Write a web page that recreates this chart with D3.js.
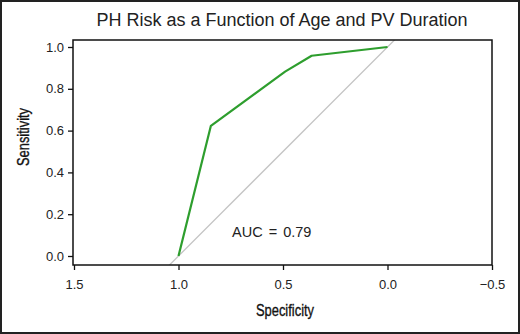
<!DOCTYPE html>
<html>
<head>
<meta charset="utf-8">
<script src="https://cdn.jsdelivr.net/npm/d3@7"></script>
<style>
  body { margin: 0; background: #fff; }
  svg { display: block; }
</style>
</head>
<body>
<div id="chart"></div>
<script>
// ROC curve points
var specificity = [1.0, 0.845, 0.49, 0.363, 0.0];
var sensitivity = [0.0, 0.623, 0.882, 0.958, 1.0];
var xTicks = [1.5, 1.0, 0.5, 0.0, -0.5];
var yTicks = [0.0, 0.2, 0.4, 0.6, 0.8, 1.0];
var aucLabel = "AUC = 0.79";

var width = 520, height = 334;
var box = {left: 73, right: 492, top: 40, bottom: 265};

var svg = d3.select("#chart")
    .append("svg")
    .attr("width", width)
    .attr("height", height);

// outer frame
svg.append("rect")
    .attr("x", 1)
    .attr("y", 1)
    .attr("width", width - 2)
    .attr("height", height - 2)
    .attr("fill", "#fff")
    .attr("stroke", "#222")
    .attr("stroke-width", 2);

var x = d3.scaleLinear()
    .domain([1.5, -0.5])
    .range([74, 492]);

var y = d3.scaleLinear()
    .domain([0, 1])
    .range([256, 47]);

svg.append("clipPath")
    .attr("id", "plotclip")
    .append("rect")
    .attr("x", box.left)
    .attr("y", box.top)
    .attr("width", box.right - box.left)
    .attr("height", box.bottom - box.top);

// diagonal reference line
svg.append("line")
    .attr("clip-path", "url(#plotclip)")
    .attr("x1", x(1.2))
    .attr("y1", y(-0.2))
    .attr("x2", x(-0.2))
    .attr("y2", y(1.2))
    .attr("stroke", "#c4c4c4")
    .attr("stroke-width", 1.3);

// ROC curve
var rocData = specificity.map(function(s, i) { return {spec: s, sens: sensitivity[i]}; });
var line = d3.line()
    .x(function(d) { return x(d.spec); })
    .y(function(d) { return y(d.sens); });

svg.append("path")
    .datum(rocData)
    .attr("d", line)
    .attr("fill", "none")
    .attr("stroke", "#2e9e2e")
    .attr("stroke-width", 2.2)
    .attr("stroke-linejoin", "round");

// box
svg.append("rect")
    .attr("x", box.left)
    .attr("y", box.top)
    .attr("width", box.right - box.left)
    .attr("height", box.bottom - box.top)
    .attr("fill", "none")
    .attr("stroke", "#111")
    .attr("stroke-width", 1.5);

// axes
var xAxis = svg.append("g")
    .attr("transform", "translate(0," + box.bottom + ")")
    .call(d3.axisBottom(x).tickValues(xTicks).tickSize(5).tickSizeOuter(0)
        .tickFormat(function(d) { return d < 0 ? "\u2212" + Math.abs(d).toFixed(1) : d.toFixed(1); }));

var yAxis = svg.append("g")
    .attr("transform", "translate(" + box.left + ",0)")
    .call(d3.axisLeft(y).tickValues(yTicks).tickSize(5).tickSizeOuter(0).tickFormat(d3.format(".1f")));

[xAxis, yAxis].forEach(function(a) {
    a.select(".domain").remove();
    a.selectAll(".tick line").attr("stroke", "#111").attr("stroke-width", 1.3);
    a.selectAll(".tick text")
        .attr("fill", "#222")
        .style("font-family", "'Liberation Sans', Arial, sans-serif")
        .style("font-size", "13px");
});
xAxis.selectAll(".tick text").attr("dy", "1.2em");
yAxis.selectAll(".tick text").attr("x", -9);

// title
svg.append("text")
    .attr("x", 282)
    .attr("y", 26)
    .attr("text-anchor", "middle")
    .attr("fill", "#222")
    .style("font-family", "'Liberation Sans', Arial, sans-serif")
    .style("font-size", "18px")
    .text("PH Risk as a Function of Age and PV Duration");

// axis labels (condensed look: squeeze horizontally)
svg.append("text")
    .attr("transform", "translate(285,316) scale(0.76,1)")
    .attr("text-anchor", "middle")
    .attr("fill", "#111")
    .attr("stroke", "#111")
    .attr("stroke-width", 0.35)
    .style("font-family", "'Liberation Sans', Arial, sans-serif")
    .style("font-size", "17px")
    .text("Specificity");

svg.append("text")
    .attr("transform", "translate(29,137) rotate(-90) scale(0.76,1)")
    .attr("text-anchor", "middle")
    .attr("fill", "#111")
    .attr("stroke", "#111")
    .attr("stroke-width", 0.35)
    .style("font-family", "'Liberation Sans', Arial, sans-serif")
    .style("font-size", "17px")
    .text("Sensitivity");

// AUC annotation
svg.append("text")
    .attr("x", 232)
    .attr("y", 237)
    .attr("fill", "#222")
    .style("font-family", "'Liberation Sans', Arial, sans-serif")
    .style("font-size", "14.5px")
    .style("word-spacing", "2px")
    .text(aucLabel);
</script>
</body>
</html>
